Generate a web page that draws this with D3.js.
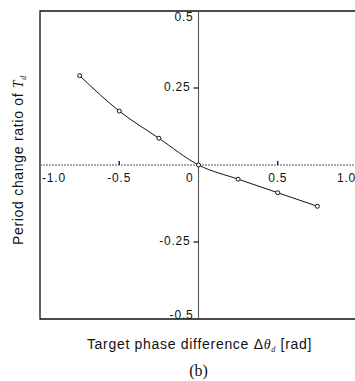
<!DOCTYPE html>
<html><head><meta charset="utf-8">
<script src="https://cdn.jsdelivr.net/npm/d3@7"></script>
<style>body{margin:0;background:#fff}svg{display:block}</style>
</head><body>
<svg id="c" width="355" height="381"></svg>
<script>
const xValues = [-0.75, -0.5, -0.25, 0, 0.25, 0.5, 0.75];
const yValues = [0.290, 0.175, 0.087, 0, -0.046, -0.090, -0.134];
const xTicks = [-1.0, -0.5, 0, 0.5, 1.0];
const xTickLabels = ["-1.0", "-0.5", "0", "0.5", "1.0"];
const yTicks = [0.5, 0.25, -0.25, -0.5];
const yTickLabels = ["0.5", "0.25", "-0.25", "-0.5"];

const svg = d3.select("#c");
const x = d3.scaleLinear().domain([-1, 1]).range([40, 357]);
const y = d3.scaleLinear().domain([-0.5, 0.5]).range([319, 11]);
const font = "Liberation Sans, Arial, sans-serif";
const serif = "Liberation Serif, Times New Roman, serif";

// frame (left, top, bottom)
svg.append("path")
  .attr("d", `M${x(1)},${y(0.5)}H${x(-1)}V${y(-0.5)}H${x(1)}`)
  .attr("fill", "none").attr("stroke", "#111").attr("stroke-width", 1.3);

// zero lines
svg.append("line").attr("x1", x(-1)).attr("x2", x(1)).attr("y1", y(0)).attr("y2", y(0))
  .attr("stroke", "#555").attr("stroke-width", 1).attr("stroke-dasharray", "2,1");
svg.append("line").attr("x1", x(0)).attr("x2", x(0)).attr("y1", y(0.5)).attr("y2", y(-0.5))
  .attr("stroke", "#555").attr("stroke-width", 1.1);

// x ticks
xTicks.forEach((t, i) => {
  if (Math.abs(t) === 0.5) {
    svg.append("line").attr("x1", x(t)).attr("x2", x(t)).attr("y1", y(0)).attr("y2", y(0) - 4)
      .attr("stroke", "#111").attr("stroke-width", 1.3);
  }
  let anchor = "middle", xx = x(t);
  if (t === -1) { anchor = "start"; xx = x(t) + 2; }
  if (t === 1) { anchor = "end"; xx = x(t) - 1; }
  if (t === 0) { anchor = "end"; xx = x(t) - 5; }
  svg.append("text").attr("x", xx).attr("y", y(0) + 17).attr("text-anchor", anchor)
    .attr("font-family", font).attr("font-size", 12).attr("letter-spacing", 0.8)
    .attr("fill", "#111").text(xTickLabels[i]);
});

// y ticks
yTicks.forEach((t, i) => {
  let yy = y(t) + 3;
  if (t === 0.5) yy = y(t) + 10;
  if (t === -0.5) yy = y(t) - 0.5;
  if (Math.abs(t) === 0.25) {
    svg.append("line").attr("x1", x(0) - 5).attr("x2", x(0)).attr("y1", y(t)).attr("y2", y(t))
      .attr("stroke", "#111").attr("stroke-width", 1.2);
  }
  svg.append("text").attr("x", x(0) - (Math.abs(t) === 0.25 ? 8 : 5)).attr("y", yy).attr("text-anchor", "end")
    .attr("font-family", font).attr("font-size", 12).attr("letter-spacing", 0.8)
    .attr("fill", "#111").text(yTickLabels[i]);
});

// data line
const data = xValues.map((v, i) => [v, yValues[i]]);
svg.append("path").datum(data)
  .attr("d", d3.line().x(d => x(d[0])).y(d => y(d[1])).curve(d3.curveMonotoneX))
  .attr("fill", "none").attr("stroke", "#111").attr("stroke-width", 1);
svg.selectAll("circle.pt").data(data).enter().append("circle")
  .attr("cx", d => x(d[0])).attr("cy", d => y(d[1])).attr("r", 2)
  .attr("fill", "#fff").attr("stroke", "#111").attr("stroke-width", 1);

// axis titles
const yt = svg.append("text").attr("transform", `translate(23,160) rotate(-90)`)
  .attr("text-anchor", "middle").attr("font-family", font).attr("font-size", 14)
  .attr("letter-spacing", 0.7).attr("fill", "#111");
yt.append("tspan").text("Period change ratio of ");
yt.append("tspan").attr("font-family", serif).attr("font-style", "italic").text("T");
yt.append("tspan").attr("font-size", 8).attr("dy", 3).attr("font-family", serif).attr("font-style", "italic").text("d");

const xt = svg.append("text").attr("x", 199.5).attr("y", 349)
  .attr("text-anchor", "middle").attr("font-family", font).attr("font-size", 14)
  .attr("letter-spacing", 0.7).attr("fill", "#111");
xt.append("tspan").text("Target phase difference Δ");
xt.append("tspan").attr("font-family", serif).attr("font-style", "italic").text("θ");
xt.append("tspan").attr("font-size", 8).attr("dy", 3).attr("font-family", serif).attr("font-style", "italic").text("d");
xt.append("tspan").attr("dy", -3).text(" [rad]");

svg.append("text").attr("x", x(0)).attr("y", 376).attr("text-anchor", "middle")
  .attr("font-family", serif).attr("font-size", 16).attr("fill", "#111").text("(b)");
</script>
</body></html>
